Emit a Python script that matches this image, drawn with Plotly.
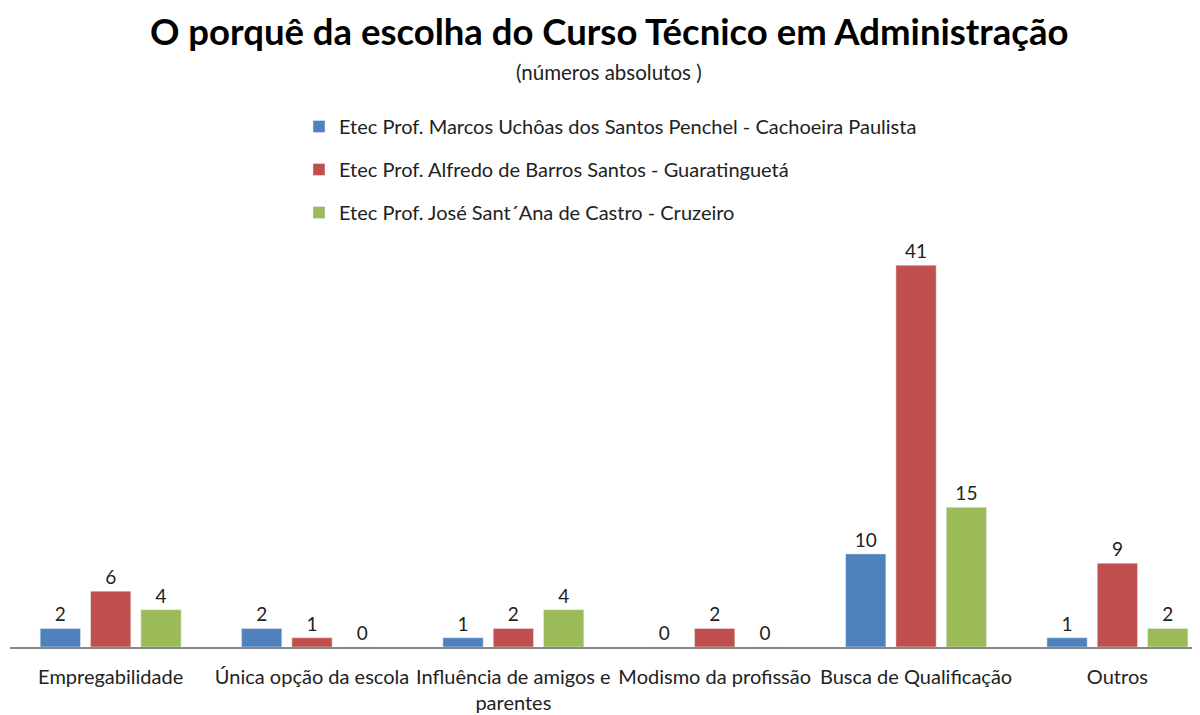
import plotly.graph_objects as go

categories = ["Empregabilidade", "Única opção da escola", "Influência de amigos e<br>parentes",
              "Modismo da profissão", "Busca de Qualificação", "Outros"]
series_names = ["Etec Prof. Marcos Uchôas dos Santos Penchel - Cachoeira Paulista",
                "Etec Prof. Alfredo de Barros Santos - Guaratinguetá",
                "Etec Prof. José Sant´Ana de Castro - Cruzeiro"]
cachoeira = [2, 2, 1, 0, 10, 1]
guaratingueta = [6, 1, 2, 2, 41, 9]
cruzeiro = [4, 0, 4, 0, 15, 2]
colors = ["#4F81BD", "#C0504D", "#9BBB59"]
offsets = [-0.35, -0.1, 0.15]

FONT = "Lato"
H = 715
OFF = 8  # page body margin
MT, MB = 228 - OFF, 68 + OFF
ph = H - MT - MB


def py(pix):
    return (H - (pix - OFF) - MB) / ph


fig = go.Figure()
for i, (name, vals) in enumerate(zip(series_names, [cachoeira, guaratingueta, cruzeiro])):
    fig.add_trace(go.Bar(
        x=categories, y=vals, name=name, marker_color=colors[i],
        width=0.2, offset=offsets[i],
        text=[str(v) for v in vals], textposition="outside", constraintext="none",
        textfont=dict(size=19, color="#222", family=FONT),
        cliponaxis=False, legendgroup=f"g{i}",
    ))

fig.update_layout(
    width=1200, height=H,
    paper_bgcolor="white", plot_bgcolor="white",
    margin=dict(l=10 - OFF, r=0, t=MT, b=MB, autoexpand=False),
    barmode="group",
    font=dict(family=FONT, size=19, color="#222"),
    showlegend=True,
    legend=dict(xref="container", yref="container", x=0.2425, y=1 - 99 / H,
                xanchor="left", yanchor="top", tracegroupgap=14,
                font=dict(size=20, family=FONT, color="#222"), traceorder="grouped"),
    annotations=[
        dict(text="<b>O porquê da escolha do Curso Técnico em Administração</b>",
             xref="paper", yref="paper", x=0.5, y=py(31), xanchor="center", yanchor="middle",
             showarrow=False, font=dict(size=36.5, family=FONT, color="#000")),
        dict(text="(números absolutos )",
             xref="paper", yref="paper", x=0.5, y=py(72), xanchor="center", yanchor="middle",
             showarrow=False, font=dict(size=20.5, family=FONT, color="#222")),
    ],
)
fig.update_xaxes(range=[-0.5, 5.45], showline=True, linecolor="#888", linewidth=1.5,
                 showgrid=False, ticks="", tickfont=dict(size=20, family=FONT, color="#222"),
                 tickangle=0, automargin=False, ticklabelstandoff=11)
fig.update_yaxes(range=[0, 45], visible=False, showgrid=False, zeroline=False, automargin=False)

fig.write_html("out.html")
